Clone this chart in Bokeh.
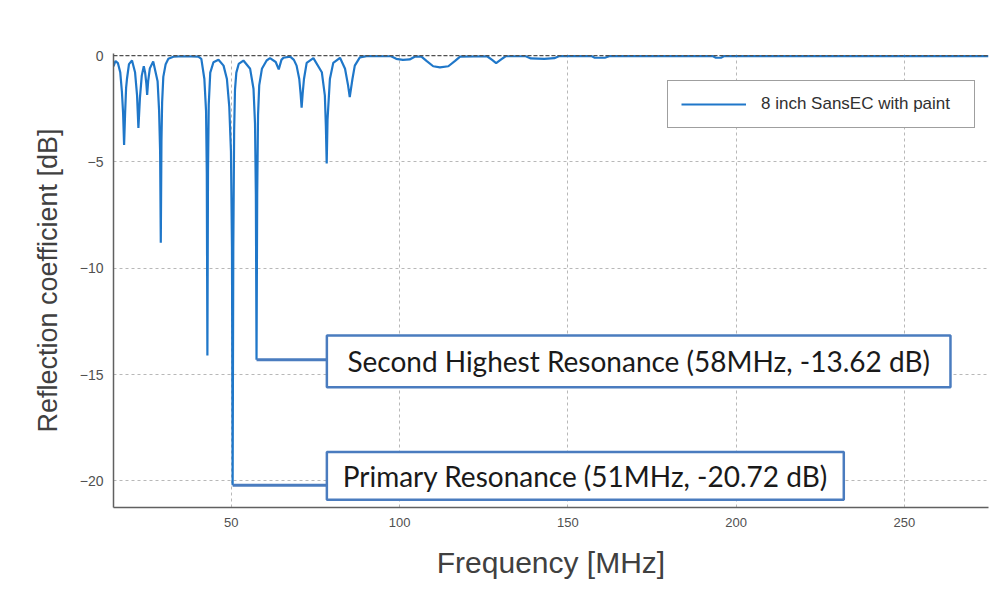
from bokeh.plotting import figure
from bokeh.models import Span, Label, FixedTicker
from bokeh.embed import file_html
from bokeh.resources import INLINE

# ---- data ----
freq_mhz = [
    15.0, 15.6, 16.3, 17.0, 17.5, 17.85, 18.15, 18.45, 18.75, 19.0, 19.6, 20.5,
    21.4, 22.0, 22.4, 22.85, 23.4, 24.0, 24.4, 24.75, 25.0, 25.3, 25.8, 26.8,
    28.1, 28.55, 28.85, 29.05, 29.25, 29.45, 29.8, 30.5, 31.3, 32.8, 36.0,
    40.2, 41.1, 42.0, 42.5, 42.72, 42.9, 43.08, 43.3, 43.75, 44.7, 46.2,
    47.7, 48.7, 49.4, 49.9, 50.2, 50.4, 50.6, 50.85, 51.1, 51.5, 52.2, 53.6,
    55.6, 56.6, 57.05, 57.3, 57.5, 57.7, 57.95, 58.3, 59.1, 60.5, 61.5,
    63.2, 64.1, 64.9, 65.5, 67.5,
    68.6, 69.4, 70.2, 70.6, 70.9, 71.2, 71.6, 72.4, 74.4,
    76.9, 77.8, 78.1, 78.35, 78.6, 79.3, 80.3, 82.3,
    83.8, 84.7, 85.2, 86.0, 86.7, 88.2, 90.2,
    97.5, 99.0, 101.0, 103.0, 104.5, 106.5, 108.0, 110.0, 112.0, 114.5, 116.5,
    118.0, 126.0, 127.5, 128.7, 130.0, 131.5, 137.5, 139.0, 143.0, 146.0,
    147.5, 157.0, 158.0, 161.0, 162.5, 193.0, 194.0, 195.5, 196.5, 275.0,
]
refl_db = [
    -0.5, -0.25, -0.35, -0.78, -1.7, -2.7, -4.2, -2.7, -1.5, -1.1, -0.4, -0.23,
    -0.78, -1.87, -3.4, -2.0, -0.94, -0.5, -0.8, -1.3, -1.85, -1.2, -0.6, -0.28,
    -1.2, -2.6, -4.5, -8.8, -4.0, -2.2, -1.0, -0.4, -0.15, -0.05, -0.03,
    -0.05, -0.15, -1.1, -2.6, -5.5, -14.1, -5.5, -2.3, -0.8, -0.31, -0.19,
    -0.47, -1.1, -2.4, -4.5, -9.0, -20.2, -9.0, -3.5, -1.6, -0.8, -0.39, -0.23,
    -0.62, -1.56, -3.2, -6.5, -14.3, -6.5, -2.8, -1.4, -0.62, -0.23, -0.12,
    -0.3, -0.65, -0.2, -0.1, -0.05,
    -0.2, -0.47, -1.1, -1.8, -2.45, -1.8, -1.1, -0.34, -0.12,
    -0.78, -1.87, -3.3, -5.07, -3.0, -1.1, -0.34, -0.1,
    -0.62, -1.4, -1.95, -1.1, -0.47, -0.08, -0.02,
    -0.03, -0.15, -0.2, -0.18, -0.05, -0.05, -0.25, -0.5, -0.55, -0.5, -0.25,
    -0.05, -0.03, -0.2, -0.35, -0.2, -0.03, -0.03, -0.13, -0.15, -0.12,
    -0.02, -0.02, -0.1, -0.1, -0.02, -0.02, -0.1, -0.1, -0.02, -0.02,
]
series_name = "8 inch SansEC with paint"

x_ticks = [50, 100, 150, 200, 250]
y_ticks = [0, -5, -10, -15, -20]

callout_freq = [50.4, 57.5]
callout_db = [-20.2, -14.3]
callout_text = ["Primary Resonance (51MHz, -20.72 dB)",
                "Second Highest Resonance (58MHz, -13.62 dB)"]

# ---- layout constants ----
box_left = 78.4
box_right = [232.0, 263.7]
box_top = [-18.64, -13.16]
box_bottom = [-20.89, -15.6]

CURVE = "#1f77c9"
CALLOUT = "#4a7cbf"
AXIS_FONT = "Liberation Sans"

p = figure(width=990, height=591, x_range=(15, 275), y_range=(-21.25, 0.1),
           output_backend="svg", toolbar_location=None,
           min_border_left=113, min_border_right=2, min_border_top=53,
           min_border_bottom=84, background_fill_color="white",
           border_fill_color="white")
p.outline_line_color = None

# grid
p.xgrid.ticker = FixedTicker(ticks=x_ticks)
p.ygrid.ticker = FixedTicker(ticks=y_ticks)
for g in (p.xgrid, p.ygrid):
    g.grid_line_color = "#b8b8b8"
    g.grid_line_dash = "3 3"
    g.grid_line_width = 1
p.add_layout(Span(location=0, dimension="width", line_color="#505050",
                  line_dash="4 2", line_width=1.2))

# axes
p.xaxis.ticker = FixedTicker(ticks=x_ticks)
p.yaxis.ticker = FixedTicker(ticks=y_ticks)
for ax in (p.xaxis, p.yaxis):
    ax.axis_line_color = "#606060"
    ax.axis_line_width = 1.5
    ax.major_tick_line_color = None
    ax.minor_tick_line_color = None
    ax.major_tick_out = 0
    ax.major_label_text_color = "#505050"
    ax.major_label_text_font = AXIS_FONT
    ax.axis_label_text_font = AXIS_FONT
    ax.axis_label_text_color = "#404040"
    ax.axis_label_text_font_style = "normal"
p.xaxis.major_label_text_font_size = "13px"
p.yaxis.major_label_text_font_size = "14px"
p.xaxis.major_label_standoff = 10
p.yaxis.major_label_standoff = 10
p.xaxis.axis_label = "Frequency [MHz]"
p.yaxis.axis_label = "Reflection coefficient [dB]"
p.xaxis.axis_label_text_font_size = "30px"
p.yaxis.axis_label_text_font_size = "27px"
p.xaxis.axis_label_standoff = 16
p.yaxis.axis_label_standoff = 14

# curve
p.line(freq_mhz, refl_db, line_color=CURVE, line_width=2.2, legend_label=series_name)

# callouts
for i in range(len(callout_freq)):
    p.line([callout_freq[i], box_left], [callout_db[i], callout_db[i]],
           line_color=CALLOUT, line_width=3)
    p.quad(left=box_left, right=box_right[i], top=box_top[i], bottom=box_bottom[i],
           fill_color="white", line_color=CALLOUT, line_width=2.5)
    p.add_layout(Label(x=(box_left + box_right[i]) / 2,
                       y=(box_top[i] + box_bottom[i]) / 2,
                       text=callout_text[i], text_align="center",
                       text_baseline="middle", text_font="Lato",
                       text_font_size="28px", text_color="#1a1a1a"))

# legend
lg = p.legend[0]
lg.location = (554, 379)
lg.border_line_color = "#404040"
lg.border_line_width = 1
lg.background_fill_color = "white"
lg.background_fill_alpha = 1
lg.padding = 13
lg.margin = 0
lg.glyph_width = 65
lg.glyph_height = 20
lg.label_standoff = 15
lg.label_width = 200
lg.label_text_font = AXIS_FONT
lg.label_text_font_size = "17px"
lg.label_text_color = "#303030"

open("out.html", "w").write(file_html(p, INLINE))
